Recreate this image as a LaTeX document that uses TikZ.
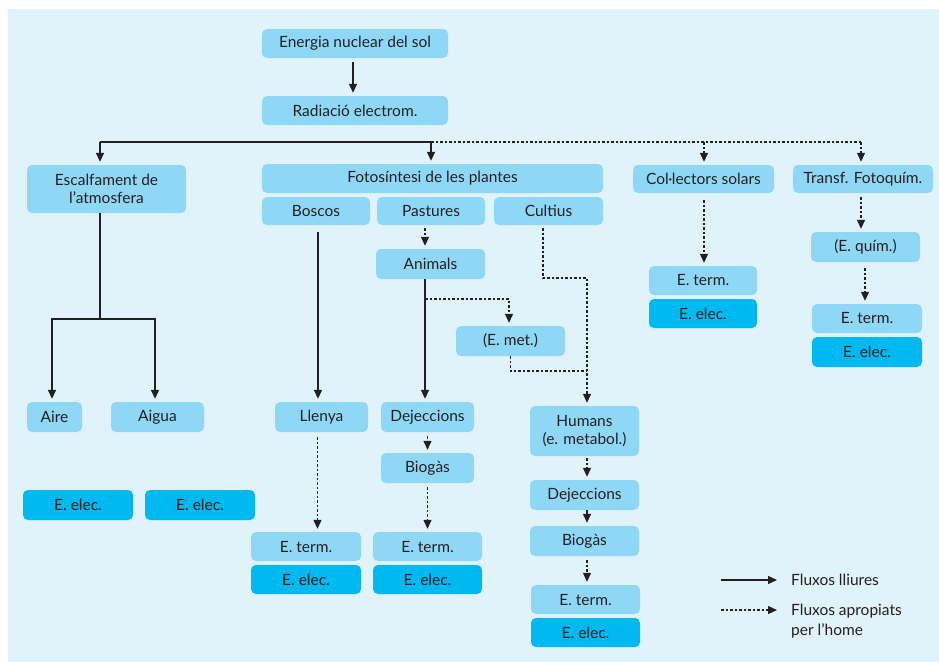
\documentclass[tikz,border=0pt]{standalone}
\usepackage{fontspec}
\setmainfont{Lato}
\usetikzlibrary{arrows.meta}
\definecolor{bgc}{HTML}{E0F2FA}
\definecolor{lightc}{HTML}{8ED8F6}
\definecolor{darkc}{HTML}{00B9F0}
\definecolor{inkc}{HTML}{231F20}
\tikzset{
  box/.style={fill=lightc, rounded corners=5pt, inner sep=0pt, align=center,
    text=inkc, font=\fontsize{15.5}{18}\selectfont},
  ebox/.style={box, fill=darkc},
  flow/.style={draw=inkc, line width=1.4pt, -{Triangle[length=9pt,width=8pt]}, shorten >=3pt},
  aflow/.style={flow, line width=1.2pt, dash pattern=on 2.5pt off 2pt},
  plain/.style={draw=inkc, line width=1.4pt},
  aplain/.style={plain, line width=1.2pt, dash pattern=on 2.5pt off 2pt},
  legtext/.style={text=inkc, font=\fontsize{15.5}{20}\selectfont, inner sep=0pt, align=left}
}
\begin{document}
\begin{tikzpicture}[x=1pt, y=-1pt]
\useasboundingbox (0,0) rectangle (939,662);
\fill[bgc] (8,9) rectangle (939,662);
% boxes
\node[box, minimum width=186pt, minimum height=29pt] (sol) at (355,43.5) {Energia nuclear del sol};
\node[box, minimum width=186pt, minimum height=29pt] (rad) at (355,110.5) {Radiació electrom.};
\node[box, minimum width=159pt, minimum height=48pt] (esc) at (106.5,189) {Escalfament de\\l’atmosfera};
\node[box, minimum width=341pt, minimum height=29pt] (foto) at (432.5,178.5) {Fotosíntesi de les plantes};
\node[box, minimum width=108pt, minimum height=28pt] (bosc) at (316,211) {Boscos};
\node[box, minimum width=108pt, minimum height=28pt] (past) at (431,211) {Pastures};
\node[box, minimum width=109pt, minimum height=28pt] (cult) at (548.5,211) {Cultius};
\node[box, minimum width=141pt, minimum height=28pt] (col) at (703.5,179) {Col·lectors solars};
\node[box, minimum width=140pt, minimum height=28pt] (trf) at (863,179) {Transf. Fotoquím.};
\node[box, minimum width=109pt, minimum height=30pt] (anim) at (430.5,264) {Animals};
\node[box, minimum width=109pt, minimum height=30pt] (emet) at (510.5,341) {(E. met.)};
\node[box, minimum width=55pt, minimum height=30pt] (aire) at (54.5,417) {Aire};
\node[box, minimum width=93pt, minimum height=30pt] (aigua) at (157.5,417) {Aigua};
\node[box, minimum width=93pt, minimum height=30pt] (llen) at (321.5,417) {Llenya};
\node[box, minimum width=93pt, minimum height=30pt] (dej1) at (427.5,417) {Dejeccions};
\node[box, minimum width=93pt, minimum height=30pt] (bio1) at (427.5,468) {Biogàs};
\node[box, minimum width=109pt, minimum height=50pt] (hum) at (584.5,431) {Humans\\(e. metabol.)};
\node[box, minimum width=109pt, minimum height=30pt] (dej2) at (584.5,495) {Dejeccions};
\node[box, minimum width=109pt, minimum height=30pt] (bio2) at (584.5,541) {Biogàs};
\node[box, minimum width=109pt, minimum height=29pt] (eth) at (585.5,599.5) {E. term.};
\node[ebox, minimum width=109pt, minimum height=29pt] (eeh) at (585.5,632.5) {E. elec.};
\node[box, minimum width=109pt, minimum height=30pt] (eq) at (865.5,247) {(E. quím.)};
\node[box, minimum width=110pt, minimum height=29pt] (ett) at (867,318.5) {E. term.};
\node[ebox, minimum width=110pt, minimum height=30pt] (eet) at (867,352) {E. elec.};
\node[box, minimum width=108pt, minimum height=29pt] (etc) at (703,280.5) {E. term.};
\node[ebox, minimum width=108pt, minimum height=29pt] (eec) at (703,313.5) {E. elec.};
\node[ebox, minimum width=110pt, minimum height=30pt] (ee1) at (78,505) {E. elec.};
\node[ebox, minimum width=110pt, minimum height=30pt] (ee2) at (200,505) {E. elec.};
\node[box, minimum width=110pt, minimum height=29pt] (etl) at (306,546.5) {E. term.};
\node[ebox, minimum width=110pt, minimum height=29pt] (eel) at (306,579.5) {E. elec.};
\node[box, minimum width=109pt, minimum height=29pt] (etb) at (427.5,546.5) {E. term.};
\node[ebox, minimum width=109pt, minimum height=29pt] (eeb) at (427.5,579.5) {E. elec.};
% junction coordinates
\coordinate (jl) at (100,142);
\coordinate (jm) at (431,142);
\coordinate (jc) at (704,142);
\coordinate (jt) at (861,142);
\coordinate (je) at (100,319);
\coordinate (ja) at (425,299);
\coordinate (jh) at (587,278);
\coordinate (jm2) at (587,371);
% connectors
\draw[flow] ([xshift=-2pt,yshift=-4pt]sol.south) -- ([xshift=-2pt]rad.north);
\draw[plain] (jl) -- (jm);
\draw[aplain] (jm) -- (jt);
\draw[flow] (jl) -- (jl |- esc.north);
\draw[flow] (jm) -- (jm |- foto.north);
\draw[aflow] (jc) -- (jc |- col.north);
\draw[aflow] (jt) -- (jt |- trf.north);
\draw[plain] (esc.south -| je) -- (je);
\draw[flow] (je) -| ([xshift=-2.5pt]aire.north);
\draw[flow] (je) -| ([xshift=-2.5pt]aigua.north);
\draw[flow] ([xshift=2pt,yshift=-7pt]bosc.south) -- ([xshift=2pt]bosc.south |- llen.north);
\draw[aflow] ([xshift=-6pt,yshift=-3pt]past.south) -- ([xshift=-6pt]past.south |- anim.north);
\draw[flow] ([xshift=-5.5pt]anim.south) -- ([xshift=-5.5pt]anim.south |- dej1.north);
\draw[aflow] (ja) -| ([xshift=-1.5pt]emet.north);
\draw[aflow] ([xshift=-5.5pt,yshift=-3pt]cult.south) |- (jh) -- (jh |- hum.north);
\draw[aplain] (emet.south) |- (jm2);
\draw[aflow] ([xshift=-4pt,yshift=-5pt]llen.south) -- ([xshift=-4pt]llen.south |- etl.north);
\draw[aflow] ([yshift=-4pt]dej1.south) -- (dej1.south |- bio1.north);
\draw[aflow] ([yshift=-4pt]bio1.south) -- (bio1.south |- etb.north);
\draw[aflow] ([xshift=2.5pt,yshift=-2pt]hum.south) -- ([xshift=2.5pt]hum.south |- dej2.north);
\draw[flow] ([xshift=2.5pt]dej2.south) -- ([xshift=2.5pt]dej2.south |- bio2.north);
\draw[aflow] ([xshift=2.5pt,yshift=-4pt]bio2.south) -- ([xshift=1.5pt]eth.north);
\draw[aflow] ([xshift=0.5pt,yshift=-7pt]col.south) -- ([xshift=0.5pt]col.south |- etc.north);
\draw[aflow] ([xshift=-2pt,yshift=-4pt]trf.south) -- ([xshift=-2pt]trf.south |- eq.north);
\draw[aflow] ([xshift=-0.5pt,yshift=-6pt]eq.south) -- ([xshift=-0.5pt]eq.south |- ett.north);
% legend
\node[legtext, anchor=west] (l1) at (791,580) {Fluxos lliures};
\node[legtext, anchor=base west] (l2) at (791,635.5) {Fluxos apropiats\\per l’home};
\coordinate (s1) at (721,580);
\coordinate (s2) at (721,610);
\draw[flow, shorten >=0pt] (s1) -- (777,580);
\draw[aflow, shorten >=0pt] (s2) -- (777,610);
\end{tikzpicture}
\end{document}
